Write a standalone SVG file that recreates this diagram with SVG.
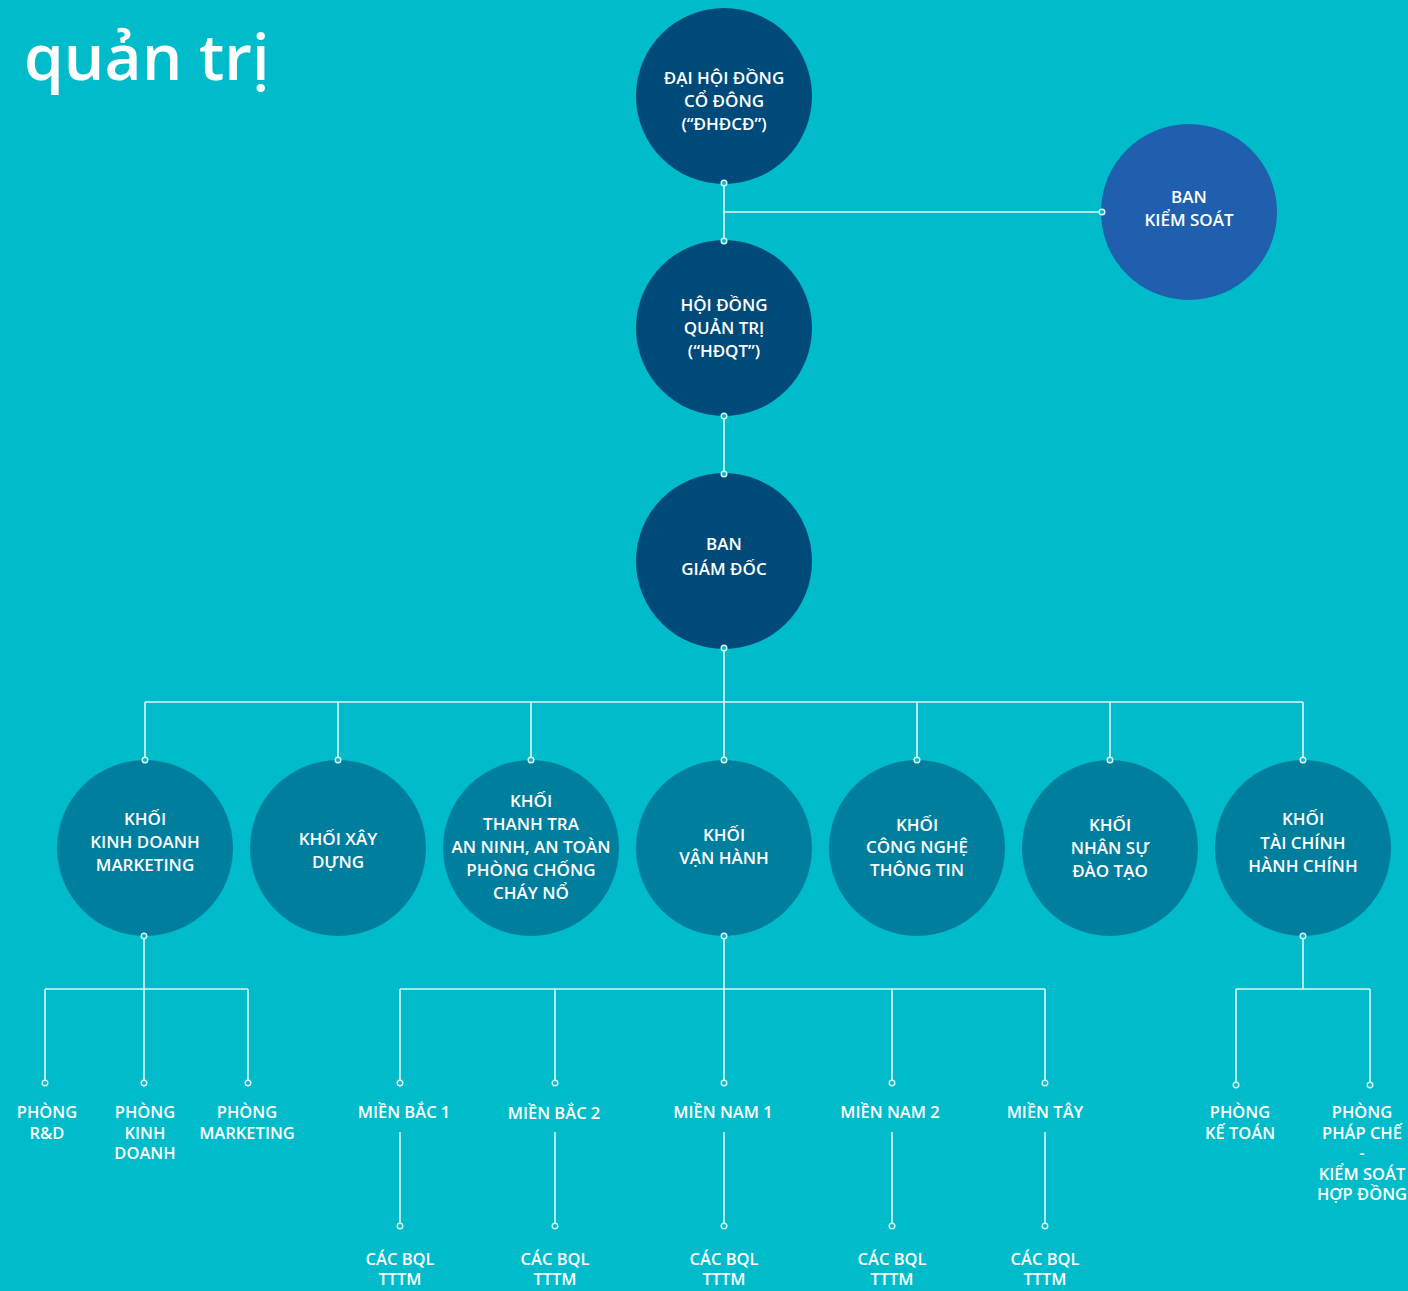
<svg xmlns="http://www.w3.org/2000/svg" width="1408" height="1291" viewBox="0 0 1408 1291">
<style>
.bg{fill:#00BCCB}
.top{fill:#004A7A}
.ks{fill:#1F5FAD}
.kh{fill:#007E9E}
.t{font-family:"Open Sans","Noto Sans","Liberation Sans",sans-serif;font-weight:600;font-size:17px;fill:#FFFFFF;text-anchor:middle}
.b{font-size:16.5px}
.title{font-family:"Open Sans","Noto Sans","Liberation Sans",sans-serif;font-weight:600;font-size:64px;fill:#FFFFFF}
.ln{fill:none;stroke:#DDF5F8;stroke-width:1.6}
.dot{fill:#00BCCB;stroke:#DDF5F8;stroke-width:1.4}
</style>
<rect class="bg" x="0" y="0" width="1408" height="1291"/>
<text class="title" x="24" y="80">quản trị</text>

<g id="connectors">
<path class="ln" d="M724 183V241M724 212H1102M724 416V474M724 648V702M145 702H1303M145 702V760M338 702V760M531 702V760M917 702V760M1110 702V760M1303 702V760M724 702V760"/>
<path class="ln" d="M144 936V1083M45 989H248M45 989V1083M248 989V1083"/>
<path class="ln" d="M724 936V1083M400 989H1045M400 989V1083M555 989V1083M892 989V1083M1045 989V1083"/>
<path class="ln" d="M1303 936V989M1236 989H1370M1236 989V1085M1370 989V1085"/>
<path class="ln" d="M400 1132V1226M555 1132V1226M724 1132V1226M892 1132V1226M1045 1132V1226"/>
</g>

<g id="dhdcd"><circle class="top" cx="724" cy="96" r="88"/>
<text class="t" x="724" y="84">ĐẠI HỘI ĐỒNG</text><text class="t" x="724" y="107">CỔ ĐÔNG</text><text class="t" x="724" y="130">(“ĐHĐCĐ”)</text></g>
<g id="hdqt"><circle class="top" cx="724" cy="328" r="88"/>
<text class="t" x="724" y="311">HỘI ĐỒNG</text><text class="t" x="724" y="334">QUẢN TRỊ</text><text class="t" x="724" y="357">(“HĐQT”)</text></g>
<g id="bgd"><circle class="top" cx="724" cy="561" r="88"/>
<text class="t" x="724" y="550">BAN</text><text class="t" x="724" y="575">GIÁM ĐỐC</text></g>
<g id="bks"><circle class="ks" cx="1189" cy="212" r="88"/>
<text class="t" x="1189" y="203">BAN</text><text class="t" x="1189" y="226">KIỂM SOÁT</text></g>

<g id="k-kd"><circle class="kh" cx="145" cy="848" r="88"/>
<text class="t" x="145" y="825">KHỐI</text><text class="t" x="145" y="848">KINH DOANH</text><text class="t" x="145" y="871">MARKETING</text></g>
<g id="k-xd"><circle class="kh" cx="338" cy="848" r="88"/>
<text class="t" x="338" y="845">KHỐI XÂY</text><text class="t" x="338" y="868">DỰNG</text></g>
<g id="k-tt"><circle class="kh" cx="531" cy="848" r="88"/>
<text class="t" x="531" y="807">KHỐI</text><text class="t" x="531" y="830">THANH TRA</text><text class="t" x="531" y="853">AN NINH, AN TOÀN</text><text class="t" x="531" y="876">PHÒNG CHỐNG</text><text class="t" x="531" y="899">CHÁY NỔ</text></g>
<g id="k-vh"><circle class="kh" cx="724" cy="848" r="88"/>
<text class="t" x="724" y="841">KHỐI</text><text class="t" x="724" y="864">VẬN HÀNH</text></g>
<g id="k-cntt"><circle class="kh" cx="917" cy="848" r="88"/>
<text class="t" x="917" y="831">KHỐI</text><text class="t" x="917" y="853">CÔNG NGHỆ</text><text class="t" x="917" y="876">THÔNG TIN</text></g>
<g id="k-ns"><circle class="kh" cx="1110" cy="848" r="88"/>
<text class="t" x="1110" y="831">KHỐI</text><text class="t" x="1110" y="854">NHÂN SỰ</text><text class="t" x="1110" y="877">ĐÀO TẠO</text></g>
<g id="k-tc"><circle class="kh" cx="1303" cy="848" r="88"/>
<text class="t" x="1303" y="825">KHỐI</text><text class="t" x="1303" y="849">TÀI CHÍNH</text><text class="t" x="1303" y="872">HÀNH CHÍNH</text></g>

<g id="dots">
<circle class="dot" cx="724" cy="183" r="2.8"/><circle class="dot" cx="724" cy="241" r="2.8"/><circle class="dot" cx="1102" cy="212" r="2.8"/>
<circle class="dot" cx="724" cy="416" r="2.8"/><circle class="dot" cx="724" cy="474" r="2.8"/><circle class="dot" cx="724" cy="648" r="2.8"/>
<circle class="dot" cx="145" cy="760" r="2.8"/><circle class="dot" cx="338" cy="760" r="2.8"/><circle class="dot" cx="531" cy="760" r="2.8"/><circle class="dot" cx="724" cy="760" r="2.8"/><circle class="dot" cx="917" cy="760" r="2.8"/><circle class="dot" cx="1110" cy="760" r="2.8"/><circle class="dot" cx="1303" cy="760" r="2.8"/>
<circle class="dot" cx="144" cy="936" r="2.8"/><circle class="dot" cx="724" cy="936" r="2.8"/><circle class="dot" cx="1303" cy="936" r="2.8"/>
<circle class="dot" cx="45" cy="1083" r="2.8"/><circle class="dot" cx="144" cy="1083" r="2.8"/><circle class="dot" cx="248" cy="1083" r="2.8"/>
<circle class="dot" cx="400" cy="1083" r="2.8"/><circle class="dot" cx="555" cy="1083" r="2.8"/><circle class="dot" cx="724" cy="1083" r="2.8"/><circle class="dot" cx="892" cy="1083" r="2.8"/><circle class="dot" cx="1045" cy="1083" r="2.8"/>
<circle class="dot" cx="1236" cy="1085" r="2.8"/><circle class="dot" cx="1370" cy="1085" r="2.8"/>
<circle class="dot" cx="400" cy="1226" r="2.8"/><circle class="dot" cx="555" cy="1226" r="2.8"/><circle class="dot" cx="724" cy="1226" r="2.8"/><circle class="dot" cx="892" cy="1226" r="2.8"/><circle class="dot" cx="1045" cy="1226" r="2.8"/>
</g>

<g id="p-rd"><text class="t b" x="47" y="1118">PHÒNG</text><text class="t b" x="47" y="1139">R&amp;D</text></g>
<g id="p-kd"><text class="t b" x="145" y="1118">PHÒNG</text><text class="t b" x="145" y="1139">KINH</text><text class="t b" x="145" y="1159">DOANH</text></g>
<g id="p-mk"><text class="t b" x="247" y="1118">PHÒNG</text><text class="t b" x="247" y="1139">MARKETING</text></g>
<g id="mb1"><text class="t b" x="404" y="1118">MIỀN BẮC 1</text></g>
<g id="mb2"><text class="t b" x="554" y="1119">MIỀN BẮC 2</text></g>
<g id="mn1"><text class="t b" x="723" y="1118">MIỀN NAM 1</text></g>
<g id="mn2"><text class="t b" x="890" y="1118">MIỀN NAM 2</text></g>
<g id="mt"><text class="t b" x="1045" y="1118">MIỀN TÂY</text></g>
<g id="bql1"><text class="t b" x="400" y="1265">CÁC BQL</text><text class="t b" x="400" y="1285">TTTM</text></g>
<g id="bql2"><text class="t b" x="555" y="1265">CÁC BQL</text><text class="t b" x="555" y="1285">TTTM</text></g>
<g id="bql3"><text class="t b" x="724" y="1265">CÁC BQL</text><text class="t b" x="724" y="1285">TTTM</text></g>
<g id="bql4"><text class="t b" x="892" y="1265">CÁC BQL</text><text class="t b" x="892" y="1285">TTTM</text></g>
<g id="bql5"><text class="t b" x="1045" y="1265">CÁC BQL</text><text class="t b" x="1045" y="1285">TTTM</text></g>
<g id="p-kt"><text class="t b" x="1240" y="1118">PHÒNG</text><text class="t b" x="1240" y="1139">KẾ TOÁN</text></g>
<g id="p-pc"><text class="t b" x="1362" y="1118">PHÒNG</text><text class="t b" x="1362" y="1139">PHÁP CHẾ</text><text class="t b" x="1362" y="1159">-</text><text class="t b" x="1362" y="1180">KIỂM SOÁT</text><text class="t b" x="1362" y="1200">HỢP ĐỒNG</text></g>
</svg>
